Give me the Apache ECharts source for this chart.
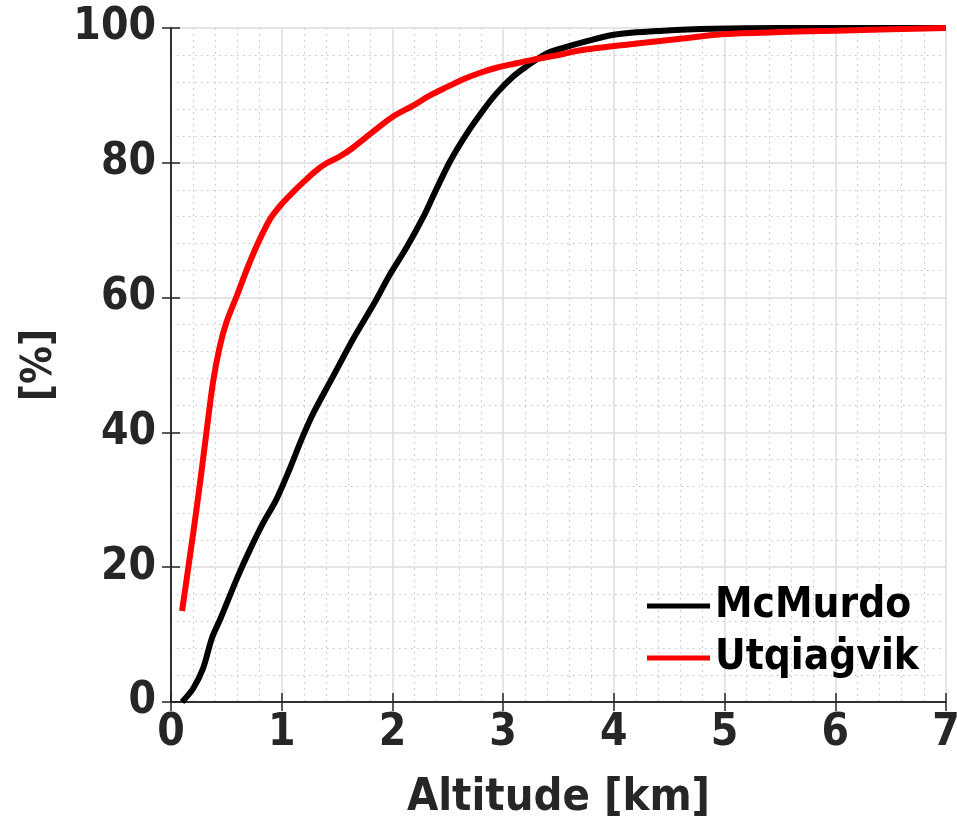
<!DOCTYPE html>
<html>
<head>
<meta charset="utf-8">
<script src="https://cdn.jsdelivr.net/npm/echarts@6/dist/echarts.min.js"></script>
<style>
  html, body { margin: 0; padding: 0; background: #fff; overflow: hidden; }
  #chart { width: 957px; height: 823px; }
</style>
</head>
<body>
<div id="chart"></div>
<script>
// Cumulative distribution of altitude (km) vs percent for two stations
const seriesNames = ['McMurdo', 'Utqiaġvik'];

const mcmurdoAlt = [0.10, 0.20, 0.29, 0.37, 0.45, 0.60, 0.71, 0.83, 0.95, 1.07, 1.18, 1.29, 1.47, 1.65, 1.83, 1.98, 2.13, 2.28, 2.38, 2.52, 2.67, 2.82, 2.94, 3.09, 3.21, 3.39, 3.55, 3.70, 4.00, 4.45, 4.90, 5.50, 6.50, 7.00];
const mcmurdoPct = [0, 2, 5, 9.5, 12.5, 18.5, 22.5, 26.5, 30, 34.5, 39, 43, 48.5, 54, 59, 63.5, 67.5, 72, 75.5, 80.2, 84.3, 87.8, 90.3, 92.8, 94.3, 96.2, 97.1, 97.8, 99.0, 99.6, 99.9, 100, 100, 100];

const utqAlt = [0.10, 0.20, 0.26, 0.32, 0.38, 0.44, 0.50, 0.60, 0.70, 0.80, 0.90, 1.00, 1.10, 1.20, 1.30, 1.40, 1.52, 1.64, 1.80, 2.00, 2.20, 2.34, 2.50, 2.64, 2.80, 2.94, 3.10, 3.24, 3.50, 3.70, 4.15, 4.60, 5.00, 5.50, 6.00, 6.50, 7.00];
const utqPct = [13.5, 25, 32.2, 40, 47.5, 52.7, 56.3, 60.5, 64.8, 68.6, 71.8, 73.9, 75.6, 77.2, 78.7, 79.9, 80.9, 82.2, 84.3, 86.8, 88.6, 90, 91.3, 92.4, 93.4, 94.1, 94.7, 95.2, 96, 96.7, 97.6, 98.4, 99.1, 99.4, 99.6, 99.8, 100];

const xTicks = { min: 0, max: 7, interval: 1 };
const yTicks = { min: 0, max: 100, interval: 20 };

const pair = (xs, ys) => xs.map((x, i) => [x, ys[i]]);

const FONT = 'DejaVu Sans Condensed';
const INK = '#262626';

function axisBase(show) {
  return {
    axisLine: { show: true, lineStyle: { color: INK, width: 1.5 } },
    axisTick: { show: true, inside: true, length: 9, lineStyle: { color: INK, width: 1.5 } },
    minorTick: { show: false, splitNumber: 5 },
    axisLabel: { show: show, color: INK, fontFamily: FONT, fontWeight: 'bold', fontSize: 44 },
  };
}

const chart = echarts.init(document.getElementById('chart'), null, { renderer: 'canvas', width: 957, height: 823 });

chart.setOption({
  animation: false,
  backgroundColor: '#fff',
  grid: { left: 171, right: 11, top: 28, bottom: 121, containLabel: false, outerBoundsMode: 'none' },
  legend: {
    data: seriesNames,
    orient: 'vertical',
    left: 647,
    top: 583,
    padding: 0,
    icon: 'rect',
    itemWidth: 63,
    itemHeight: 5,
    itemGap: 6,
    textStyle: { color: '#000', fontFamily: FONT, fontWeight: 'bold', fontSize: 42, lineHeight: 46 },
  },
  xAxis: [
    Object.assign(axisBase(true), {
      type: 'value', position: 'bottom',
      min: xTicks.min, max: xTicks.max, interval: xTicks.interval,
      name: 'Altitude [km]', nameLocation: 'middle', nameGap: 74,
      nameTextStyle: { color: INK, fontFamily: FONT, fontWeight: 'bold', fontSize: 45 },
      axisLabel: { show: true, color: INK, fontFamily: FONT, fontWeight: 'bold', fontSize: 44, margin: 10 },
      splitLine: { show: true, lineStyle: { color: '#dcdcdc', width: 1.5 } },
      minorSplitLine: { show: true, lineStyle: { color: '#c4c4c4', width: 1, type: [1.5, 4.5] } },
    }),
    Object.assign(axisBase(false), {
      type: 'value', position: 'top',
      min: xTicks.min, max: xTicks.max, interval: xTicks.interval,
      splitLine: { show: false },
    }),
  ],
  yAxis: [
    Object.assign(axisBase(true), {
      type: 'value', position: 'left',
      min: yTicks.min, max: yTicks.max, interval: yTicks.interval,
      name: '[%]', nameLocation: 'middle', nameGap: 110,
      nameTextStyle: { color: INK, fontFamily: FONT, fontWeight: 'bold', fontSize: 42 },
      axisLabel: { show: true, color: INK, fontFamily: FONT, fontWeight: 'bold', fontSize: 44, margin: 15 },
      splitLine: { show: true, lineStyle: { color: '#dcdcdc', width: 1.5 } },
      minorSplitLine: { show: true, lineStyle: { color: '#c4c4c4', width: 1, type: [1.5, 4.5] } },
    }),
    Object.assign(axisBase(false), {
      type: 'value', position: 'right',
      min: yTicks.min, max: yTicks.max, interval: yTicks.interval,
      splitLine: { show: false },
    }),
  ],
  series: [
    {
      name: seriesNames[0], type: 'line', xAxisIndex: 0, yAxisIndex: 0,
      data: pair(mcmurdoAlt, mcmurdoPct),
      showSymbol: false, smooth: 0.3, clip: false,
      lineStyle: { color: '#000000', width: 6 },
      itemStyle: { color: '#000000' },
      z: 3,
    },
    {
      name: seriesNames[1], type: 'line', xAxisIndex: 0, yAxisIndex: 0,
      data: pair(utqAlt, utqPct),
      showSymbol: false, smooth: 0.3, clip: false,
      lineStyle: { color: '#ff0000', width: 6 },
      itemStyle: { color: '#ff0000' },
      z: 4,
    },
  ],
});
</script>
</body>
</html>
